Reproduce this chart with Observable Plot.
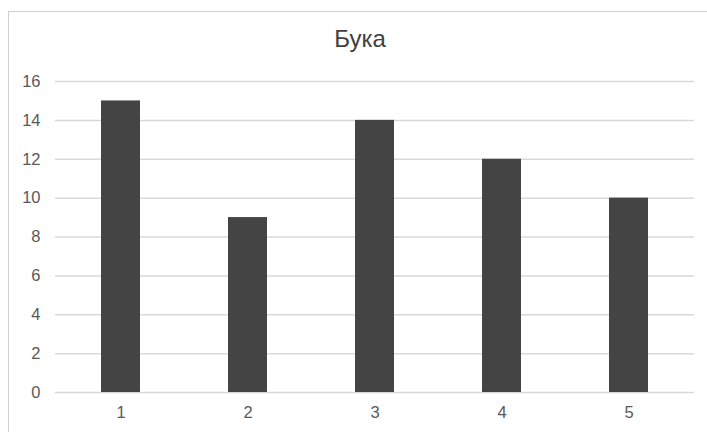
<!DOCTYPE html>
<html>
<head>
<meta charset="utf-8">
<script src="https://cdn.jsdelivr.net/npm/d3@7"></script>
<script src="https://cdn.jsdelivr.net/npm/@observablehq/plot@0.6"></script>
<style>
  html, body { margin: 0; padding: 0; background: #fff; overflow: hidden; }
  #wrap { position: relative; width: 707px; height: 432px; overflow: hidden; font-family: "Liberation Sans", Arial, sans-serif; }
  #frame { position: absolute; left: 8px; top: 11px; width: 800px; height: 500px; border: 1px solid #cfcfcf; box-sizing: border-box; }
  #title { position: absolute; left: 0; top: 25px; width: 720px; text-align: center; font-size: 24px; color: #404040; }
  #wrap svg { position: absolute; left: 0; top: 0; }
</style>
</head>
<body>
<div id="wrap">
  <div id="frame"></div>
  <div id="title"></div>
</div>
<script>
const title = "Бука";
const categories = ["1", "2", "3", "4", "5"];
const values = [15, 9, 14, 12, 10];
const yTicks = [0, 2, 4, 6, 8, 10, 12, 14, 16];

const data = categories.map((c, i) => ({category: c, value: values[i]}));

document.getElementById("title").textContent = title;

const chart = Plot.plot({
  width: 707,
  height: 432,
  marginLeft: 55,
  marginRight: 13,
  marginTop: 81,
  marginBottom: 40,
  style: {background: "transparent", fontFamily: "'Liberation Sans', Arial, sans-serif", fontSize: "16px", color: "#595959"},
  x: {domain: categories, paddingInner: 0.69, paddingOuter: 0.345, label: null, tickSize: 0, tickPadding: 14},
  y: {domain: [0, 16], ticks: yTicks, label: null, tickSize: 0, tickPadding: 15},
  marks: [
    Plot.ruleY(yTicks, {stroke: "#d9d9d9", strokeWidth: 1.5}),
    Plot.barY(data, {x: "category", y: "value", fill: "#444444"}),
    Plot.axisX({tickSize: 0, tickPadding: 14, fontSize: 16.5, fill: "#595959"}),
    Plot.axisY({ticks: yTicks, tickSize: 0, tickPadding: 15, fontSize: 16.5, fill: "#595959"})
  ]
});
document.getElementById("wrap").appendChild(chart);
</script>
</body>
</html>
